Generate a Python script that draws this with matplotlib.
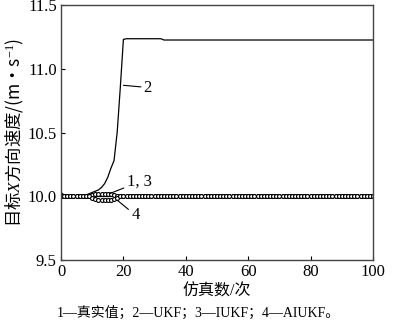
import numpy as np
import matplotlib
matplotlib.use("Agg")
import matplotlib.pyplot as plt

plt.rcParams['font.family'] = ['Liberation Serif', 'Noto Sans CJK SC']
plt.rcParams['mathtext.fontset'] = 'custom'
plt.rcParams['mathtext.rm'] = 'Liberation Serif'
plt.rcParams['mathtext.it'] = 'Liberation Serif:italic'

steps = np.arange(0, 101)

true_val = [10.0] * 101

ukf = ([10.03, 10.01, 10.0, 10.0, 10.0, 10.0, 10.0, 10.0, 10.01,
        10.02, 10.03, 10.04, 10.05, 10.07, 10.10, 10.15, 10.22, 10.28,
        10.50, 10.85, 11.23]
       + [11.235] * 12
       + [11.225] * 68)

iukf = ([10.0] * 10
        + [10.01, 10.015, 10.015, 10.015, 10.015, 10.015, 10.015, 10.01]
        + [10.0] * 83)

aiukf = ([10.0] * 10
         + [9.985, 9.975, 9.97, 9.97, 9.97, 9.97, 9.97, 9.975, 9.99]
         + [10.0] * 82)

fig = plt.figure(figsize=(4.0, 3.28), dpi=100)
ax = fig.add_axes([0.1525, 0.207, 0.78, 0.778])

ax.plot(steps, true_val, color='black', lw=0.9)
ax.plot(steps, ukf, color='black', lw=0.9)
ax.plot(steps, iukf, color='black', lw=0.8, marker='o', ms=2.8,
        mfc='white', mec='black', mew=0.8)
ax.plot(steps, aiukf, color='black', lw=0.8, marker='o', ms=2.8,
        mfc='white', mec='black', mew=0.8)

ax.set_xlim(0, 100)
ax.set_ylim(9.5, 11.5)
ax.set_xticks([0, 20, 40, 60, 80, 100])
ax.set_yticks([9.5, 10.0, 10.5, 11.0, 11.5])
ax.set_yticklabels(['9.5', '10.0', '10.5', '11.0', '11.5'])
ax.tick_params(direction='in', length=3, width=0.8, labelsize=12, pad=3)
for s in ax.spines.values():
    s.set_linewidth(1.0)
    s.set_color('#444444')

ax.set_xlabel('仿真数/次', fontsize=11.5, labelpad=2)
ax.set_ylabel(r'目标$X$方向速度/(m·s$^{-1}$)', fontsize=12.5, labelpad=1,
              family='Noto Sans CJK SC')

# curve labels
ax.annotate('2', xy=(20.0, 10.87), xytext=(26.5, 10.79), fontsize=12,
            arrowprops=dict(arrowstyle='-', color='black', lw=0.8,
                            shrinkA=0, shrinkB=0),
            va='bottom', ha='left')
ax.annotate('1, 3', xy=(15.5, 10.02), xytext=(21.0, 10.05), fontsize=12,
            arrowprops=dict(arrowstyle='-', color='black', lw=0.8,
                            shrinkA=0, shrinkB=0),
            va='bottom', ha='left')
ax.annotate('4', xy=(18.0, 9.97), xytext=(22.5, 9.79), fontsize=12,
            arrowprops=dict(arrowstyle='-', color='black', lw=0.8,
                            shrinkA=0, shrinkB=0),
            va='bottom', ha='left')

fig.text(0.495, 0.025, '1—真实值；2—UKF；3—IUKF；4—AIUKF。', fontsize=10,
         ha='center', va='bottom')

fig.savefig('out.png', dpi=100)
